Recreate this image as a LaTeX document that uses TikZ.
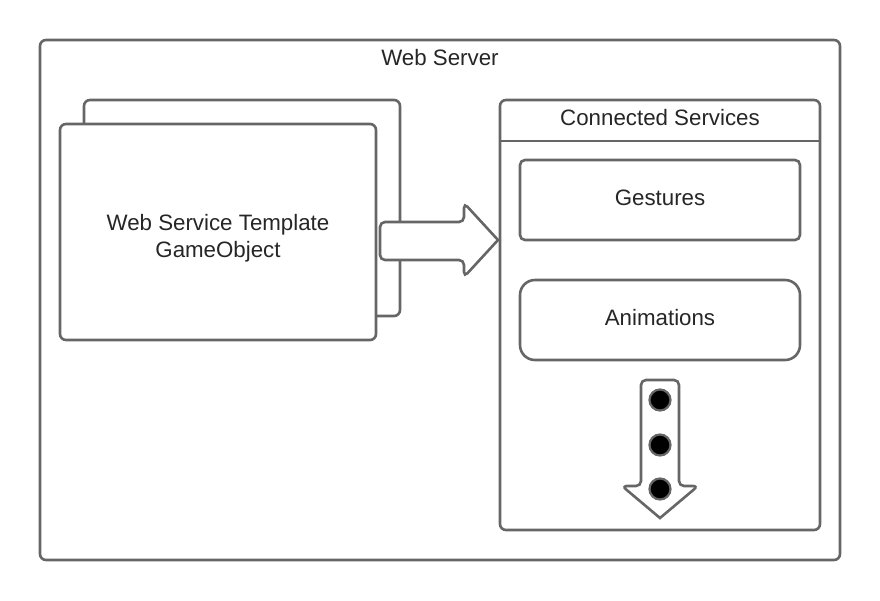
\documentclass[tikz,border=0pt]{standalone}
\usepackage{fontspec}
\setmainfont{Liberation Sans}
\definecolor{edge}{HTML}{666666}
\tikzset{
  box/.style={draw=edge, line width=2.6pt, fill=white, rounded corners=6pt},
  lbl/.style={font=\fontsize{22.3pt}{27pt}\selectfont, text=black!85, align=center},
  dot/.style={circle, draw=edge, line width=2.2pt, fill=black, minimum size=21pt, inner sep=0pt},
}
\begin{document}
\begin{tikzpicture}[x=1pt,y=-1pt]
\useasboundingbox (0,0) rectangle (880,600);
% outer frame
\draw[box] (40,40) rectangle (840,560);
\node[lbl] (ws) at (440,58) {Web Server};
% stacked templates
\draw[box] (84,100) rectangle (400,316);
\draw[box] (60,124) rectangle (376,340);
\node[lbl] (tmpl) at (218,238) {Web Service Template\\GameObject};
% big arrow
\draw[draw=edge, line width=2.6pt, fill=white, rounded corners=5pt]
  (380,222) -- (464,222) -- (464,203) [sharp corners] -- (498,240) [rounded corners=5pt] -- (464,277) -- (464,260) -- (380,260) -- cycle;
% connected services container
\draw[box] (500,100) rectangle (820,530);
\draw[draw=edge, line width=2.6pt] (500,141) -- (820,141);
\node[lbl] (cs) at (660,118) {Connected Services};
\draw[box, rounded corners=5pt] (520,160) rectangle (800,240);
\node[lbl] (g) at (660,198) {Gestures};
\draw[box, rounded corners=15pt] (520,280) rectangle (800,360);
\node[lbl] (a) at (660,318) {Animations};
% down arrow
\draw[draw=edge, line width=2.6pt, fill=white, rounded corners=5pt]
  (641,380) -- (679,380) -- (679,486) -- (698,486) [sharp corners] -- (660,518) [rounded corners=5pt] -- (622,486) -- (641,486) -- cycle;
\node[dot] (d1) at (660,400) {};
\node[dot] (d2) at (660,445) {};
\node[dot] (d3) at (660,489) {};
\end{tikzpicture}
\end{document}
